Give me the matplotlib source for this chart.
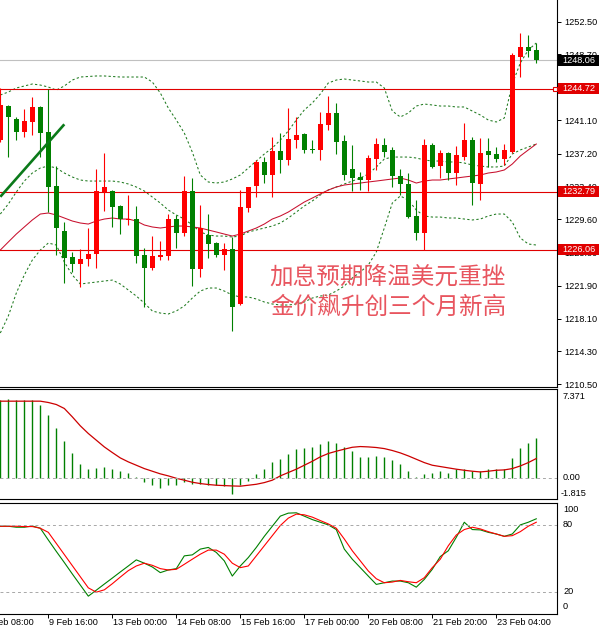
import numpy as np
import matplotlib
matplotlib.use("Agg")
import matplotlib.pyplot as plt
from matplotlib.patches import Rectangle
from matplotlib.transforms import blended_transform_factory

plt.rcParams['font.family'] = ['Liberation Sans', 'DejaVu Sans']

# ---- H4 candles ----
opens = [1238.79, 1242.73, 1241.23, 1239.75, 1240.91, 1242.65, 1239.68, 1233.46, 1228.25, 1225.24,
         1224.43, 1224.97, 1225.55, 1232.73, 1232.89, 1231.15, 1229.53, 1229.61, 1225.47, 1223.93,
         1225.30, 1225.39, 1229.61, 1227.98, 1232.89, 1223.85, 1227.79, 1226.90, 1225.47, 1226.17,
         1219.80, 1230.88, 1233.46, 1236.28, 1234.74, 1237.55, 1236.48, 1238.79, 1239.45, 1237.75,
         1237.64, 1240.53, 1241.89, 1238.68, 1235.40, 1234.47, 1234.16, 1236.59, 1238.21, 1237.64,
         1234.66, 1233.70, 1229.99, 1227.98, 1238.21, 1235.82, 1237.25, 1234.93, 1236.86, 1238.79,
         1233.70, 1237.52, 1237.17, 1236.56, 1237.44, 1248.44, 1249.53, 1249.22]
highs = [1244.82, 1242.85, 1241.49, 1242.38, 1243.81, 1242.73, 1244.70, 1235.78, 1229.33, 1225.82,
         1226.17, 1228.63, 1235.43, 1237.32, 1233.00, 1231.26, 1232.42, 1231.15, 1226.28, 1227.67,
         1227.09, 1230.19, 1230.11, 1234.62, 1234.36, 1231.26, 1230.19, 1226.98, 1226.83, 1227.59,
         1233.00, 1233.38, 1236.48, 1236.86, 1239.18, 1239.57, 1242.46, 1241.42, 1239.57, 1238.79,
         1242.07, 1243.89, 1243.04, 1239.37, 1238.21, 1235.12, 1237.06, 1238.99, 1238.99, 1238.02,
         1235.40, 1234.97, 1231.84, 1238.87, 1238.41, 1237.64, 1237.44, 1238.10, 1240.73, 1239.11,
         1238.99, 1238.99, 1238.02, 1238.33, 1248.84, 1251.22, 1250.96, 1250.06]
lows = [1238.56, 1236.82, 1238.79, 1239.14, 1239.37, 1236.82, 1230.49, 1225.47, 1222.23, 1223.50,
        1221.77, 1224.20, 1223.97, 1230.60, 1228.75, 1227.90, 1228.95, 1224.55, 1219.45, 1223.74,
        1224.89, 1224.89, 1226.32, 1227.67, 1221.92, 1222.96, 1225.09, 1225.27, 1223.74, 1216.70,
        1219.68, 1230.42, 1232.15, 1233.78, 1232.15, 1235.00, 1235.90, 1237.83, 1237.32, 1237.32,
        1236.48, 1239.95, 1237.17, 1234.16, 1232.89, 1233.00, 1232.89, 1235.32, 1236.86, 1233.38,
        1232.42, 1229.76, 1227.21, 1226.05, 1235.52, 1234.36, 1234.16, 1233.58, 1236.48, 1231.26,
        1231.84, 1235.70, 1236.28, 1235.90, 1237.25, 1246.13, 1248.37, 1247.75]
closes = [1242.85, 1241.49, 1239.75, 1241.00, 1242.65, 1239.64, 1233.38, 1228.60, 1225.16, 1224.43,
          1225.01, 1225.62, 1232.89, 1233.38, 1231.07, 1229.61, 1229.64, 1225.39, 1223.97, 1225.39,
          1225.41, 1229.61, 1228.05, 1232.89, 1223.85, 1228.63, 1226.75, 1225.47, 1226.17, 1219.48,
          1231.07, 1233.31, 1236.28, 1234.74, 1237.52, 1236.48, 1238.87, 1239.37, 1237.64, 1237.64,
          1240.65, 1241.89, 1238.60, 1234.74, 1234.43, 1234.16, 1236.74, 1238.33, 1237.44, 1234.66,
          1233.66, 1229.91, 1227.98, 1238.21, 1235.70, 1237.25, 1234.93, 1237.06, 1238.79, 1233.78,
          1237.25, 1237.06, 1236.56, 1237.64, 1248.64, 1249.53, 1249.14, 1248.06]

# Bollinger bands (dashed) and moving average (red)
bb_upper = [1244.01, 1244.35, 1244.82, 1245.05, 1245.28, 1245.16, 1244.93, 1244.58, 1245.05, 1245.74,
            1246.09, 1246.15, 1246.21, 1246.21, 1246.15, 1246.09, 1246.09, 1246.09, 1246.09, 1245.51,
            1244.24, 1242.50, 1241.11, 1239.60, 1237.40, 1234.74, 1233.93, 1233.81, 1233.93, 1234.28,
            1234.74, 1235.55, 1236.36, 1237.17, 1237.87, 1238.79, 1239.84, 1241.11, 1242.27, 1243.08,
            1244.12, 1245.40, 1245.74, 1245.86, 1245.74, 1245.63, 1245.51, 1245.51, 1244.82, 1242.15,
            1241.46, 1241.92, 1242.73, 1242.96, 1242.85, 1242.73, 1242.73, 1242.62, 1242.62, 1242.15,
            1241.69, 1241.11, 1240.88, 1241.34, 1245.28, 1247.71, 1249.22, 1250.03]
bb_middle = [1230.22, 1231.38, 1232.77, 1234.04, 1234.97, 1235.55, 1235.78, 1235.55, 1234.97, 1234.51,
             1234.16, 1234.04, 1234.04, 1234.04, 1234.04, 1233.93, 1233.70, 1233.35, 1232.89, 1232.19,
             1231.49, 1230.68, 1230.11, 1229.64, 1228.95, 1228.14, 1227.79, 1227.67, 1227.67, 1227.56,
             1227.67, 1228.14, 1228.37, 1228.60, 1228.83, 1229.18, 1229.76, 1230.45, 1231.15, 1231.73,
             1232.42, 1233.00, 1233.35, 1233.70, 1234.04, 1234.39, 1234.85, 1235.67, 1236.59, 1236.82,
             1236.82, 1236.82, 1236.71, 1236.48, 1236.36, 1236.36, 1236.25, 1236.25, 1236.13, 1235.90,
             1235.78, 1235.67, 1235.67, 1235.78, 1237.17, 1237.64, 1237.98, 1238.33]
bb_lower = [1216.44, 1218.41, 1221.07, 1223.16, 1224.89, 1226.05, 1226.86, 1226.63, 1224.66, 1223.16,
            1222.11, 1222.23, 1222.34, 1222.46, 1222.57, 1222.11, 1221.42, 1220.72, 1219.91, 1218.99,
            1218.75, 1218.64, 1218.99, 1219.57, 1220.49, 1221.30, 1221.65, 1221.65, 1221.30, 1220.84,
            1220.61, 1220.61, 1220.38, 1220.03, 1219.80, 1219.68, 1219.68, 1219.80, 1220.03, 1220.49,
            1220.72, 1220.84, 1221.30, 1221.88, 1222.81, 1223.50, 1224.31, 1225.82, 1228.60, 1231.49,
            1232.31, 1231.84, 1230.68, 1229.99, 1229.87, 1229.87, 1229.76, 1229.76, 1229.64, 1229.53,
            1229.64, 1229.99, 1230.22, 1230.22, 1229.29, 1227.44, 1226.75, 1226.63]
ma_line = [1226.05, 1226.98, 1227.90, 1228.72, 1229.53, 1230.22, 1230.34, 1230.11, 1229.76, 1229.41,
           1229.18, 1229.06, 1229.41, 1229.64, 1229.76, 1229.64, 1229.64, 1229.41, 1228.95, 1228.72,
           1228.60, 1228.72, 1228.83, 1228.83, 1228.72, 1228.60, 1228.37, 1228.14, 1227.90, 1227.67,
           1227.90, 1228.25, 1228.60, 1229.06, 1229.64, 1229.99, 1230.45, 1231.03, 1231.61, 1232.07,
           1232.54, 1233.00, 1233.35, 1233.58, 1233.70, 1233.81, 1233.93, 1234.04, 1234.16, 1234.28,
           1234.39, 1234.16, 1233.81, 1234.04, 1234.16, 1234.16, 1234.28, 1234.39, 1234.51, 1234.62,
           1234.74, 1234.97, 1235.09, 1235.32, 1236.01, 1236.94, 1237.64, 1238.33]

trend_bars = [0, 8]
trend_prices = [1232.22, 1240.61]

levels = [1244.72, 1232.79, 1226.06]
last_price = 1248.06
price_ticks = [1252.50, 1248.70, 1244.90, 1241.10, 1237.20, 1233.40,
               1229.60, 1225.80, 1221.90, 1218.10, 1214.30, 1210.50]
hidden_ticks = [1244.90]  # fully covered by the 1244.72 label box

# MACD
macd_hist = [6.46, 6.55, 6.46, 6.46, 6.46, 6.04, 5.21, 4.15, 3.03, 2.03,
             1.17, 0.70, 0.81, 0.86, 0.75, 0.56, 0.39, 0.06, -0.36, -0.58,
             -0.84, -0.58, -0.58, -0.36, -0.50, -0.56, -0.58, -0.64, -0.70, -1.34,
             -0.64, -0.28, 0.33, 0.70, 1.31, 1.53, 2.00, 2.36, 2.45, 2.53,
             2.78, 3.03, 2.92, 2.56, 2.20, 1.75, 1.73, 1.78, 1.73, 1.45,
             1.11, 0.53, 0.02, 0.30, 0.39, 0.53, 0.42, 0.70, 0.75, 0.53,
             0.58, 0.70, 0.75, 0.75, 1.64, 2.48, 2.92, 3.31]
macd_signal = [6.38, 6.38, 6.38, 6.38, 6.38, 6.38, 6.27, 6.10, 5.77, 5.07,
               4.32, 3.68, 3.12, 2.56, 2.09, 1.64, 1.31, 1.03, 0.75, 0.53,
               0.31, 0.14, -0.06, -0.22, -0.39, -0.50, -0.58, -0.64, -0.67, -0.70,
               -0.72, -0.64, -0.56, -0.42, -0.22, 0.14, 0.42, 0.70, 1.03, 1.36,
               1.73, 2.01, 2.20, 2.37, 2.53, 2.59, 2.56, 2.51, 2.42, 2.26,
               2.06, 1.81, 1.53, 1.25, 1.03, 0.92, 0.81, 0.70, 0.61, 0.53,
               0.47, 0.53, 0.61, 0.64, 0.75, 0.97, 1.25, 1.59]

# Stochastic
stoch_k = [78.8, 78.8, 77.9, 77.9, 79.0, 77.0, 66.4, 56.1, 46.1, 35.8,
           25.8, 15.8, 21.2, 26.7, 32.1, 37.6, 43.0, 48.5, 45.5, 42.1,
           37.0, 39.4, 40.6, 52.1, 53.0, 58.2, 59.7, 55.2, 47.6, 33.9,
           43.0, 50.6, 59.7, 69.7, 78.8, 87.9, 90.6, 90.9, 87.9, 84.8,
           82.4, 80.0, 75.8, 58.2, 49.1, 41.5, 33.9, 26.4, 27.9, 29.4,
           29.4, 27.9, 23.9, 30.9, 40.0, 51.5, 56.7, 68.8, 82.4, 75.8,
           75.5, 73.3, 71.8, 69.7, 71.8, 80.0, 82.4, 85.5]
stoch_d = [78.8, 78.8, 78.8, 78.5, 78.5, 77.0, 73.3, 63.3, 53.3, 43.3,
           33.3, 23.3, 19.4, 21.5, 27.0, 33.0, 38.8, 43.0, 45.5, 43.6,
           40.6, 39.4, 40.0, 44.5, 49.1, 53.6, 57.3, 57.3, 53.6, 45.5,
           41.5, 43.0, 52.1, 61.2, 70.3, 79.4, 86.1, 89.7, 89.1, 87.0,
           83.9, 80.9, 77.0, 67.3, 56.7, 47.6, 38.5, 31.5, 27.9, 28.5,
           30.0, 28.8, 27.9, 32.4, 41.5, 49.1, 61.2, 70.9, 75.8, 77.9,
           76.4, 73.9, 71.8, 69.7, 70.3, 73.9, 78.8, 82.4]

time_bars = [-2, 6, 14, 22, 30, 38, 46, 54, 62]
time_labels = ["8 Feb 08:00", "9 Feb 16:00", "13 Feb 00:00", "14 Feb 08:00", "15 Feb 16:00",
               "17 Feb 00:00", "20 Feb 08:00", "21 Feb 20:00", "23 Feb 04:00"]

headline = ["加息预期降温美元重挫", "金价飙升创三个月新高"]

# ---- layout (pixel based, MT4 style) ----
W, H = 601, 633
fig = plt.figure(figsize=(W / 100, H / 100), dpi=100)
fig.patch.set_facecolor("white")


def panel(top, bottom):
    return fig.add_axes([0, 1 - bottom / H, 557 / W, (bottom - top) / H])


ax = panel(0, 386.7)
ax_macd = panel(389.3, 499.3)
ax_sto = panel(502.7, 613.7)

xlim = (-0.04, 69.59)
for a in (ax, ax_macd, ax_sto):
    a.set_xlim(*xlim)
    a.set_facecolor("white")
    a.spines["left"].set_visible(False)
    for s in ("right", "top", "bottom"):
        a.spines[s].set_linewidth(0.8)
        a.spines[s].set_color("black")
ax.spines["top"].set_visible(False)

FS = 6.6

# ---- main price panel ----
x = np.arange(len(opens))
o = np.array(opens)
c = np.array(closes)
up = c >= o
col = np.where(up, "#FF0000", "#008000")
ax.vlines(x, lows, highs, colors=col, lw=0.8, zorder=3)
body = np.maximum(np.abs(c - o), 0.12)
ax.bar(x, body, bottom=np.minimum(o, c), width=0.6, color=col, lw=0, zorder=4)

dash = (0, (2.2, 2.2))
for band in (bb_upper, bb_middle, bb_lower):
    ax.plot(x, band, ls=dash, color="#1f7a1f", lw=0.75, zorder=2)
ax.plot(x, ma_line, color="#C8102E", lw=0.75, zorder=2)
ax.plot(trend_bars, trend_prices, color="#0b7a1a", lw=1.9, zorder=5, solid_capstyle="butt")

ax.axhline(last_price, color="#C0C0C0", lw=0.8, zorder=1)
for lv in levels:
    ax.axhline(lv, color="#E00000", lw=0.8, zorder=2)

ax.set_ylim(1210.22, 1255.01)
ax.set_xticks([])
ax.yaxis.tick_right()
ax.set_yticks(price_ticks)
ax.set_yticklabels(["" if v in hidden_ticks else f"{v:.2f}" for v in price_ticks])
ax.tick_params(axis="y", length=3, width=0.7, pad=2.5, labelsize=FS)

trans = blended_transform_factory(ax.transAxes, ax.transData)
box_h = 11 / 8.633
for lv, fc in [(last_price, "black")] + [(lv, "#E00000") for lv in levels]:
    ax.add_patch(Rectangle((558 / 557, lv - box_h / 2), 41 / 557, box_h, transform=trans,
                           fc=fc, ec="none", clip_on=False, zorder=10))
    ax.text(562 / 557, lv, f"{lv:.2f}", transform=trans, color="white", fontsize=FS,
            ha="left", va="center", clip_on=False, zorder=11)
ax.plot([69.34], [levels[0]], marker="s", ms=3.2, mfc="white", mec="#E00000",
        mew=0.8, clip_on=False, zorder=12)

cjk = ["Noto Sans CJK SC", "DejaVu Sans"]
ax.text(48.46, 1222.92, headline[0], ha="center", va="center", fontsize=17,
        color="#E8555F", family=cjk, zorder=6)
ax.text(48.46, 1219.45, headline[1], ha="center", va="center", fontsize=17,
        color="#E8555F", family=cjk, zorder=6)

# ---- MACD panel ----
ax_macd.vlines(x, 0, macd_hist, colors="#008000", lw=1.0)
ax_macd.plot(x, macd_signal, color="#CC0000", lw=0.9)
ax_macd.axhline(0, color="#A8A8A8", lw=0.7, ls=(0, (3, 3)))
ax_macd.set_ylim(-1.815, 7.371)
ax_macd.set_xticks([])
ax_macd.set_yticks([])
tm = blended_transform_factory(ax_macd.transAxes, ax_macd.transData)
for val, txt, xp in [(6.75, "7.371", 563), (0.0, "0.00", 563), (-1.35, "-1.815", 561)]:
    ax_macd.text(xp / 557, val, txt, transform=tm, fontsize=FS, ha="left", va="center",
                 clip_on=False)

# ---- Stochastic panel ----
ax_sto.plot(x, stoch_k, color="#008000", lw=0.8)
ax_sto.plot(x, stoch_d, color="#FF0000", lw=0.8)
for lv in (80, 20):
    ax_sto.axhline(lv, color="#A8A8A8", lw=0.7, ls=(0, (3, 3)))
ax_sto.set_ylim(0, 100)
ax_sto.set_yticks([])
ts = blended_transform_factory(ax_sto.transAxes, ax_sto.transData)
for val, txt in [(94.0, "100"), (80, "80"), (20, "20"), (6.5, "0")]:
    ax_sto.text(563 / 557, val, txt, transform=ts, fontsize=FS, ha="left", va="center",
                clip_on=False)

ax_sto.set_xticks([b for b in time_bars if b >= 0])
ax_sto.tick_params(axis="x", length=3, width=0.7, labelbottom=False)
for b, lab in zip(time_bars, time_labels):
    ax_sto.annotate(lab, xy=(b, 0), xycoords=("data", "axes fraction"),
                    xytext=(0.8, -6.5), textcoords="offset points",
                    ha="left", va="center", fontsize=FS, annotation_clip=False)

fig.savefig("out.png", dpi=100, facecolor="white")
